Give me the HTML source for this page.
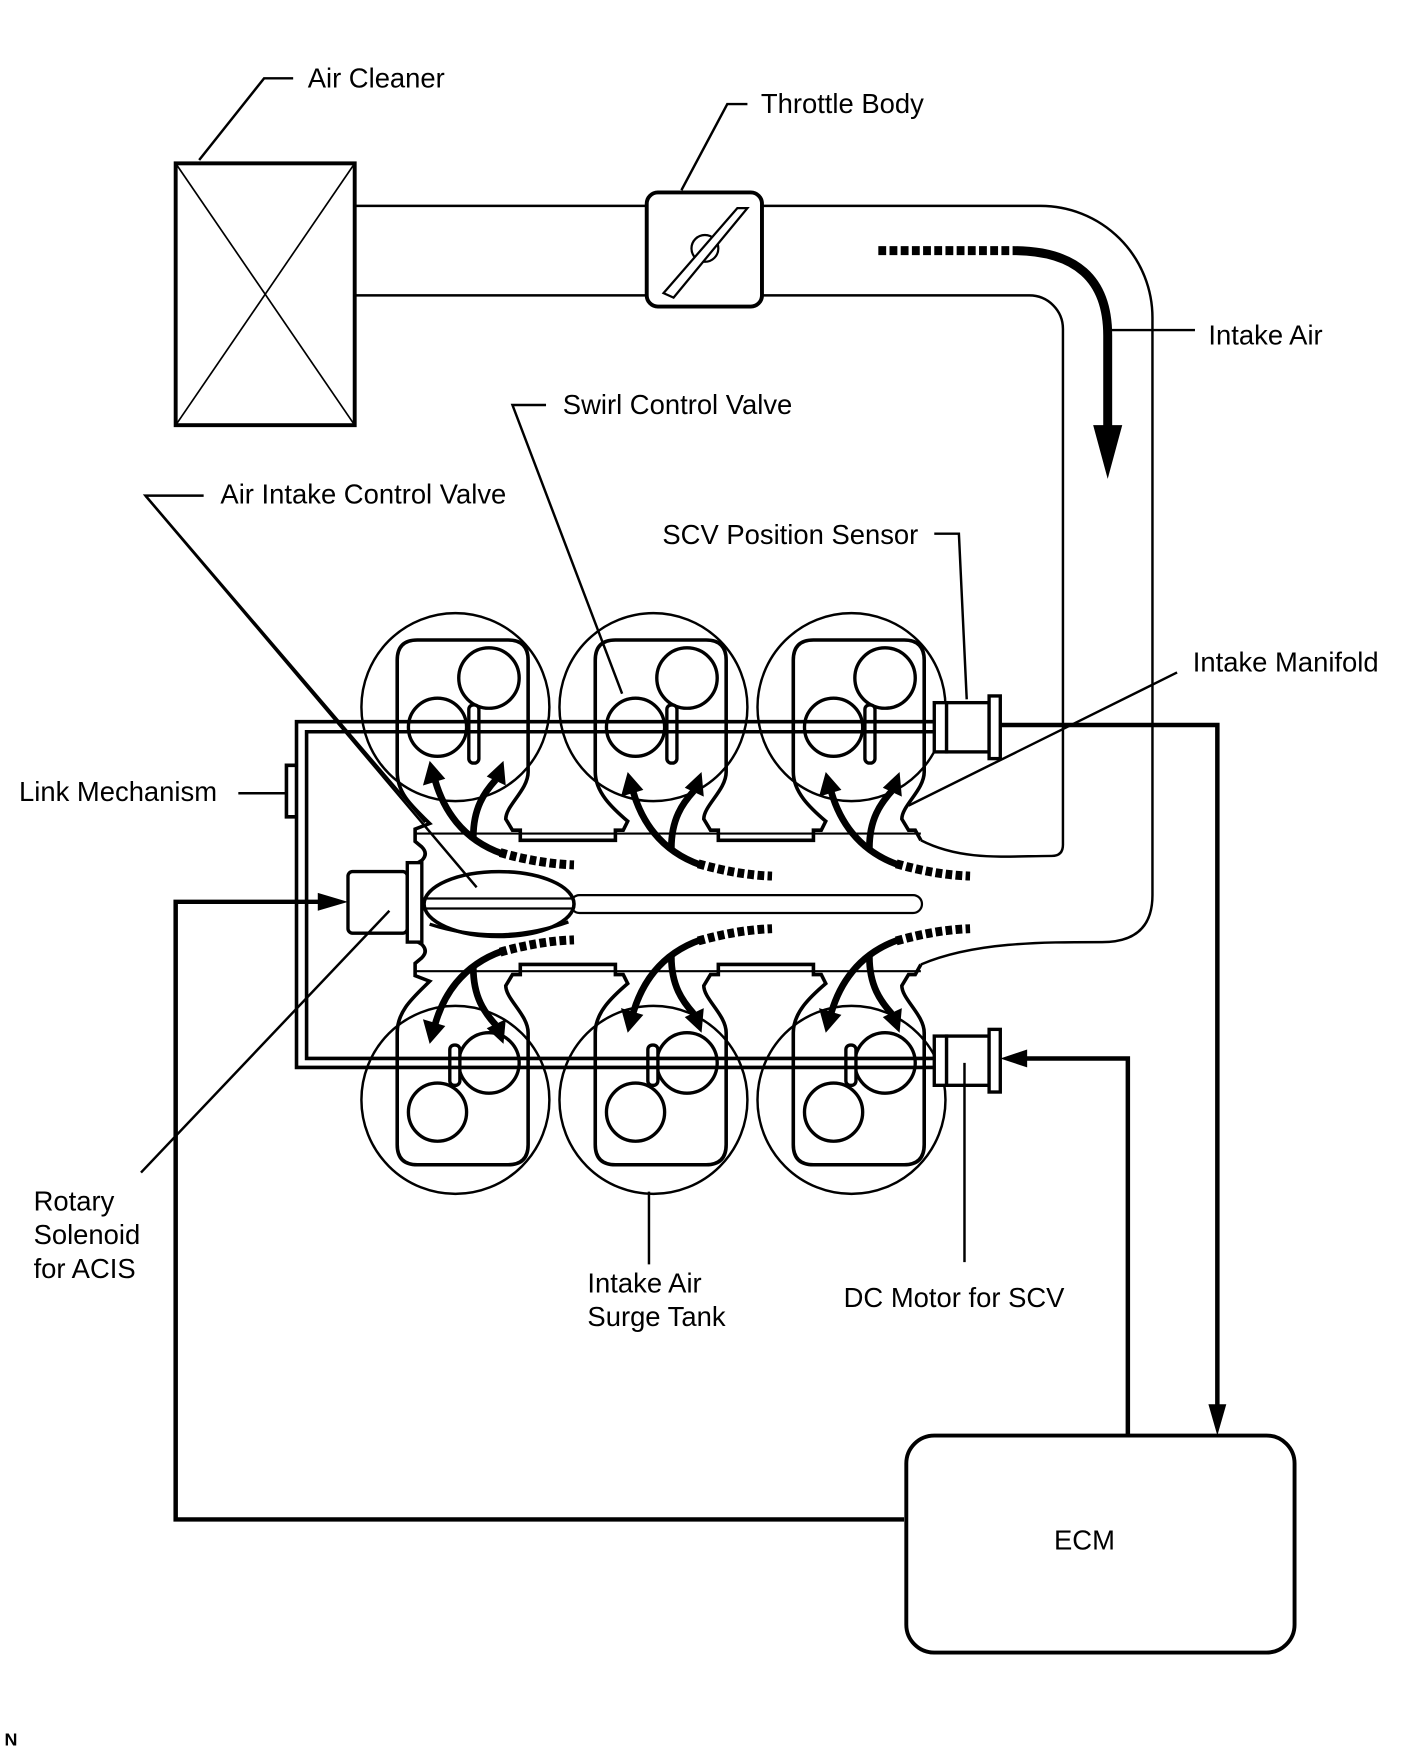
<!DOCTYPE html>
<html><head><meta charset="utf-8"><style>
html,body{margin:0;padding:0;background:#fff;}
svg{display:block;}
text{font-family:"Liberation Sans",Arial,sans-serif;font-size:24.5px;fill:#000;}
</style></head><body>
<svg width="1421" height="1760" viewBox="0 0 1270 1573" xmlns="http://www.w3.org/2000/svg">
<defs>
<g id="flowTop">
  <path d="M447,762 Q482,772 513,773" fill="none" stroke="#000" stroke-width="8" stroke-dasharray="6,3"/>
  <path d="M449,763 C412,750 396,722 389,698" fill="none" stroke="#000" stroke-width="6"/>
  <polygon points="384,680 378,702 398,696" fill="#000"/>
  <path d="M423,748 C423,722 433,708 443,697" fill="none" stroke="#000" stroke-width="6"/>
  <polygon points="450,680 435,694 452,702" fill="#000"/>
</g>
<g id="cylTop">
  <circle cx="407" cy="632" r="84" fill="none" stroke="#000" stroke-width="2.2"/>
  <circle cx="437" cy="606" r="27" fill="none" stroke="#000" stroke-width="3"/>
  <circle cx="391" cy="650" r="26" fill="none" stroke="#000" stroke-width="3"/>
  <rect x="419" y="630" width="9" height="52" rx="4" fill="#fff" stroke="#000" stroke-width="3"/>
</g>
<g id="cylBot">
  <circle cx="407" cy="983" r="84" fill="none" stroke="#000" stroke-width="2.2"/>
  <circle cx="437" cy="950" r="27" fill="none" stroke="#000" stroke-width="3"/>
  <circle cx="391" cy="994" r="26" fill="none" stroke="#000" stroke-width="3"/>
  <rect x="402" y="934" width="9" height="36" rx="4" fill="#fff" stroke="#000" stroke-width="3"/>
</g>
</defs>

<rect x="157" y="146" width="160" height="234" fill="none" stroke="#000" stroke-width="3.5"/>
<line x1="157" y1="146" x2="317" y2="380" stroke="#000" stroke-width="1.5"/>
<line x1="317" y1="146" x2="157" y2="380" stroke="#000" stroke-width="1.5"/>
<polyline points="178,143 236,70 262,70" fill="none" stroke="#000" stroke-width="2.2"/>
<text x="275" y="78">Air Cleaner</text>

<line x1="317" y1="184" x2="578" y2="184" stroke="#000" stroke-width="2.2"/>
<line x1="317" y1="264" x2="578" y2="264" stroke="#000" stroke-width="2.2"/>
<rect x="578" y="172" width="103" height="102" rx="10" fill="none" stroke="#000" stroke-width="3.5"/>
<circle cx="630" cy="222" r="12" fill="none" stroke="#000" stroke-width="2"/>
<polygon points="593,262 659,186 668,186 602,266" fill="#fff" stroke="#000" stroke-width="2"/>
<polyline points="609,170 650,93 668,93" fill="none" stroke="#000" stroke-width="2.2"/>
<text x="680" y="101">Throttle Body</text>

<path d="M681,184 L930,184 A100,100 0 0 1 1030,284 L1030,800 Q1030,842 985,842 C930,842 870,842 823,862" fill="none" stroke="#000" stroke-width="2.2"/>
<path d="M681,264 L920,264 A30,30 0 0 1 950,294 L950,755 Q950,765 940,765 C900,765 860,770 823,751" fill="none" stroke="#000" stroke-width="2.2"/>

<path d="M785,224 L905,224" stroke="#000" stroke-width="8" stroke-dasharray="7,3" fill="none"/>
<path d="M905,224 Q990,224 990,300 L990,385" stroke="#000" stroke-width="8" fill="none"/>
<polygon points="977,380 1003,380 990,428" fill="#000"/>
<line x1="990" y1="295" x2="1068" y2="295" stroke="#000" stroke-width="2.2"/>
<text x="1080" y="308">Intake Air</text>

<g fill="none" stroke="#000" stroke-width="3.2">
<path id="manTop" d="M372,772 L377,769 Q383,763 377,757 L371,752 L371,741 L384,736 C370,722 355,710 355,690 L355,590 Q355,572 373,572 L454,572 Q472,572 472,590 L472,690 C472,706 452,720 452,732 L458,742 L465,742 L465,751 L550,751 L550,742 L557,742 L561,734 C547,722 532,708 532,690 L532,590 Q532,572 550,572 L631,572 Q649,572 649,590 L649,690 C649,706 629,720 629,732 L635,742 L642,742 L642,751 L727,751 L727,742 L734,742 L738,734 C724,722 709,708 709,690 L709,590 Q709,572 727,572 L808,572 Q826,572 826,590 L826,690 C826,706 806,720 806,732 L812,742 L818,742 L823,751"/>
<use href="#manTop" transform="translate(0,1613) scale(1,-1)"/>
</g>
<line x1="371" y1="745" x2="823" y2="745" stroke="#000" stroke-width="2"/>
<line x1="371" y1="868" x2="823" y2="868" stroke="#000" stroke-width="2"/>

<use href="#cylTop"/><use href="#cylTop" transform="translate(177,0)"/><use href="#cylTop" transform="translate(354,0)"/>
<use href="#cylBot"/><use href="#cylBot" transform="translate(177,0)"/><use href="#cylBot" transform="translate(354,0)"/>

<g stroke="#000" stroke-width="3.2" fill="none">
<path d="M835,645 L265,645 L265,954 L835,954"/>
<path d="M835,654 L274,654 L274,946 L835,946"/>
<polyline points="265,684 256,684 256,730 265,730"/>
</g>
<line x1="213" y1="709" x2="256" y2="709" stroke="#000" stroke-width="2.2"/>
<text x="17" y="716">Link Mechanism</text>

<g fill="#fff" stroke="#000" stroke-width="3">
<rect x="835" y="628" width="11" height="44"/>
<rect x="846" y="628" width="38" height="44"/>
<rect x="884" y="622" width="10" height="56"/>
<rect x="835" y="926" width="11" height="44"/>
<rect x="846" y="926" width="38" height="44"/>
<rect x="884" y="920" width="10" height="56"/>
</g>

<rect x="311" y="779" width="53" height="55" rx="4" fill="#fff" stroke="#000" stroke-width="3"/>
<rect x="364" y="771" width="13" height="71" fill="#fff" stroke="#000" stroke-width="3"/>
<rect x="510" y="800" width="314" height="16" rx="8" fill="#fff" stroke="#000" stroke-width="2"/>
<ellipse cx="446" cy="808" rx="67" ry="29" fill="#fff" stroke="#000" stroke-width="3.2"/>
<path d="M384,826 Q446,846 508,824" fill="none" stroke="#000" stroke-width="3"/>
<line x1="380" y1="803" x2="512" y2="803" stroke="#000" stroke-width="2"/>
<line x1="380" y1="812" x2="512" y2="812" stroke="#000" stroke-width="2"/>

<use href="#flowTop"/><use href="#flowTop" transform="translate(177,10)"/><use href="#flowTop" transform="translate(354,10)"/>
<g transform="translate(0,1613) scale(1,-1)">
<use href="#flowTop"/><use href="#flowTop" transform="translate(177,10)"/><use href="#flowTop" transform="translate(354,10)"/>
</g>

<g stroke="#000" stroke-width="2.2" fill="none">
<polyline points="488,362 458,362 556,620"/>
<polyline points="182,443 130,443 380,735"/>
<line x1="130" y1="443" x2="426" y2="793"/>
<polyline points="835,477 857,477 864,625"/>
<line x1="1052" y1="601" x2="812" y2="720"/>
<line x1="126" y1="1048" x2="348" y2="814"/>
<line x1="580" y1="1065" x2="580" y2="1130"/>
<line x1="862" y1="950" x2="862" y2="1128"/>
</g>
<text x="503" y="370">Swirl Control Valve</text>
<text x="197" y="450">Air Intake Control Valve</text>
<text x="592" y="486">SCV Position Sensor</text>
<text x="1066" y="600">Intake Manifold</text>
<text x="30" y="1082">Rotary</text>
<text x="30" y="1112">Solenoid</text>
<text x="30" y="1142">for ACIS</text>
<text x="525" y="1155">Intake Air</text>
<text x="525" y="1185">Surge Tank</text>
<text x="754" y="1168">DC Motor for SCV</text>

<g stroke="#000" stroke-width="4" fill="none">
<polyline points="808,1358 157,1358 157,806 296,806"/>
<polyline points="1008,1283 1008,946 908,946"/>
<polyline points="894,648 1088,648 1088,1262"/>
</g>
<polygon points="311,806 284,798 284,814" fill="#000"/>
<polygon points="894,946 918,938 918,954" fill="#000"/>
<polygon points="1088,1283 1080,1255 1096,1255" fill="#000"/>

<rect x="810" y="1283" width="347" height="194" rx="25" fill="none" stroke="#000" stroke-width="3.5"/>
<text x="942" y="1385">ECM</text>

<text x="4" y="1560" style="font-size:16px;font-weight:bold">N</text>
</svg>
</body></html>
